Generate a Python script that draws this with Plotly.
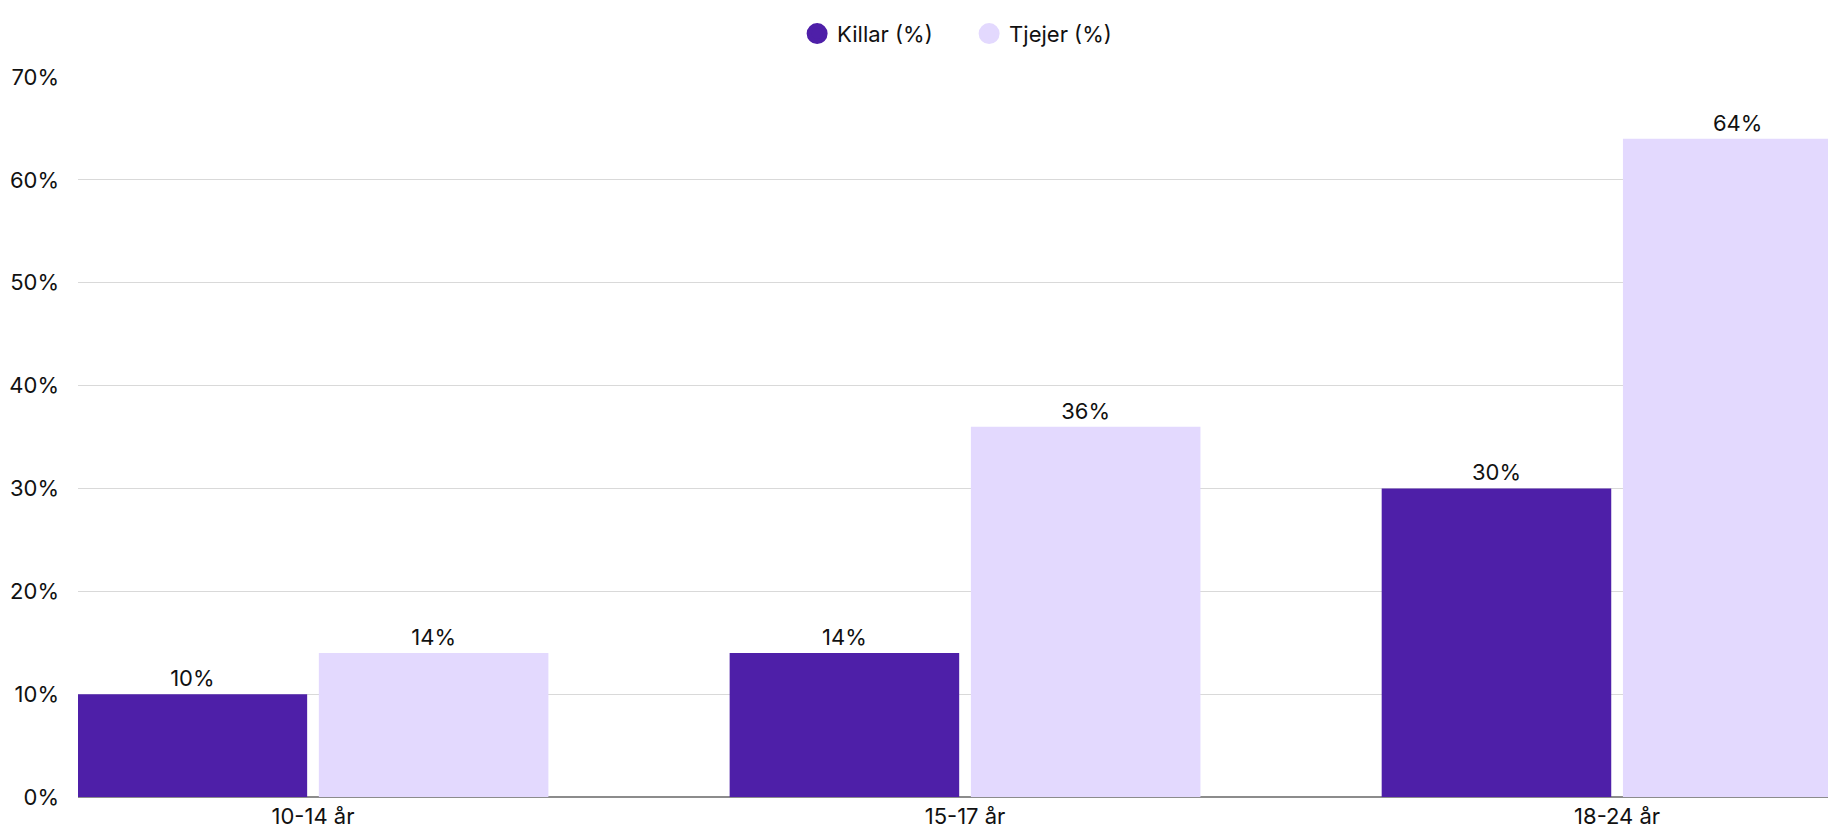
import plotly.graph_objects as go

categories = ["10-14 år", "15-17 år", "18-24 år"]
killar = [10, 14, 30]
tjejer = [14, 36, 64]
series_names = ["Killar (%)", "Tjejer (%)"]
y_ticks = [0, 10, 20, 30, 40, 50, 60, 70]
y_tick_text = [f"{v}%" for v in y_ticks]

DARK = "#4E1FA8"
LIGHT = "#E3D9FE"
FONT = "Inter, Roboto, Arial, sans-serif"
TXT = "#111111"
FS = 22

fig = go.Figure()
for name, vals, col in [(series_names[0], killar, DARK), (series_names[1], tjejer, LIGHT)]:
    fig.add_trace(go.Bar(
        x=categories, y=vals, name=name, marker=dict(color=col, line=dict(width=0)),
        text=[f"{v}%" for v in vals], texttemplate="%{text}", textposition="outside",
        textfont=dict(size=FS, color=TXT, family=FONT),
        showlegend=False, hoverinfo="skip",
    ))
    fig.add_trace(go.Scatter(
        x=[None], y=[None], mode="markers", name=name,
        marker=dict(color=col, size=16, symbol="circle", line=dict(color=col, width=5)),
        showlegend=True,
    ))

fig.update_layout(
    width=1836, height=834,
    margin=dict(l=70, r=0, t=69, b=45),
    paper_bgcolor="white", plot_bgcolor="white",
    font=dict(family=FONT, size=FS, color=TXT),
    barmode="group", bargap=0.26, bargroupgap=0.0485,
    legend=dict(orientation="h", x=0.5046, xanchor="center", y=1.06, yanchor="middle",
                font=dict(size=FS, family=FONT, color=TXT), itemsizing="trace",
                entrywidth=127, entrywidthmode="pixels", traceorder="normal"),
    xaxis=dict(range=[-0.3604, 2.348], showgrid=False, showline=True, linecolor="#8c8c8c",
               linewidth=1, ticks="", tickfont=dict(size=FS, family=FONT, color=TXT),
               fixedrange=True),
    yaxis=dict(range=[0, 70], tickvals=y_ticks, ticktext=y_tick_text, showgrid=True,
               gridcolor="#d9d9d9", gridwidth=1, zeroline=True, zerolinecolor="#8c8c8c",
               showline=False, ticks="", ticklabelstandoff=18,
               tickfont=dict(size=FS, family=FONT, color=TXT)),
)

fig.write_html("out.html")
